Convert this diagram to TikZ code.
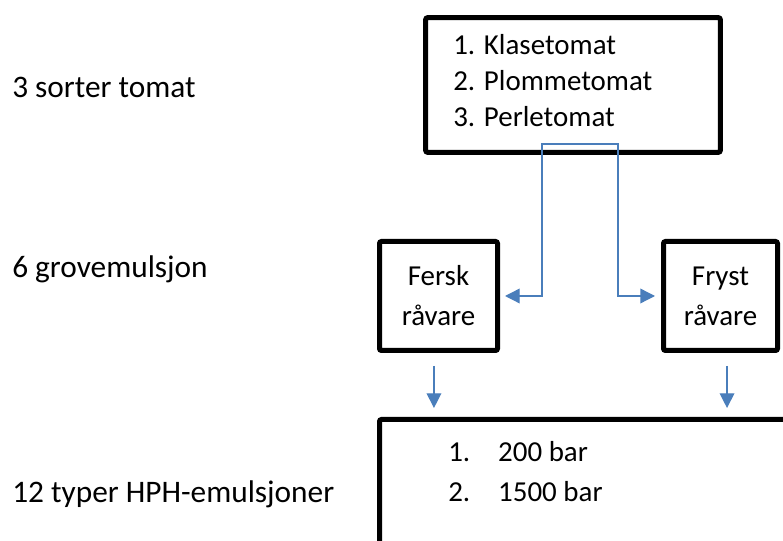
\documentclass[tikz,border=0pt]{standalone}
\usepackage{fontspec}
\setmainfont{Carlito}
\usetikzlibrary{arrows.meta}
\definecolor{linkblue}{HTML}{4A7EBB}

\begin{document}
\begin{tikzpicture}[x=0.75pt, y=-0.75pt, >={Triangle[length=11pt,width=11pt]},
  every node/.style={inner sep=0pt, font=\fontsize{21.7}{27}\selectfont},
  label/.style={anchor=base west, font=\fontsize{23.5}{28}\selectfont},
  box/.style={draw, line width=3.75pt, rounded corners=1.5pt},
  link/.style={->, draw=linkblue, line width=1pt}]

\useasboundingbox (0,0) rectangle (783,541);
\clip (0,0) rectangle (783,541);

% Labels
\node[label] (sorter) at (12,98) {3 sorter tomat};
\node[label] (grove) at (12,278) {6 grovemulsjon};
\node[label] (typer) at (12,503) {12 typer HPH-emulsjoner};

% Boxes
\node[box, minimum width=221pt, minimum height=101pt] (tomat) at (573,85) {};
\node[box, minimum width=88.5pt, minimum height=81.75pt, align=center,
  font=\fontsize{21.7}{30}\selectfont] (fersk) at (438.5,296) {Fersk\\råvare};
\node[box, minimum width=85.5pt, minimum height=81.75pt, align=center,
  font=\fontsize{21.7}{30}\selectfont] (fryst) at (720.5,296) {Fryst\\råvare};
\node[box, anchor=north west, minimum width=315pt, minimum height=135pt] (hph) at (377,417) {};

% Lists (base = last line)
\node[anchor=base west, align=left] (sorts) at (453,127) {1. Klasetomat\\2. Plommetomat\\3. Perletomat};
\node[anchor=base west, align=left, font=\fontsize{21.7}{30}\selectfont] (bars) at (448,502)
  {\makebox[37.5pt][l]{1.}200 bar\\\makebox[37.5pt][l]{2.}1500 bar};

% Edges
\coordinate (split) at (580,144);
\draw[link, shorten >=3.75pt] (split) -- (542,144) |- (fersk.east);
\draw[link, shorten >=4.5pt] (split) -- (618,144) |- (fryst.west);
\draw[link] ([xshift=-3.4pt, yshift=-9.75pt]fersk.south) -- ([xshift=-3.4pt, yshift=6.75pt]fersk.south |- hph.north);
\draw[link] ([xshift=4.9pt, yshift=-9.75pt]fryst.south) -- ([xshift=4.9pt, yshift=6.75pt]fryst.south |- hph.north);

\end{tikzpicture}
\end{document}
